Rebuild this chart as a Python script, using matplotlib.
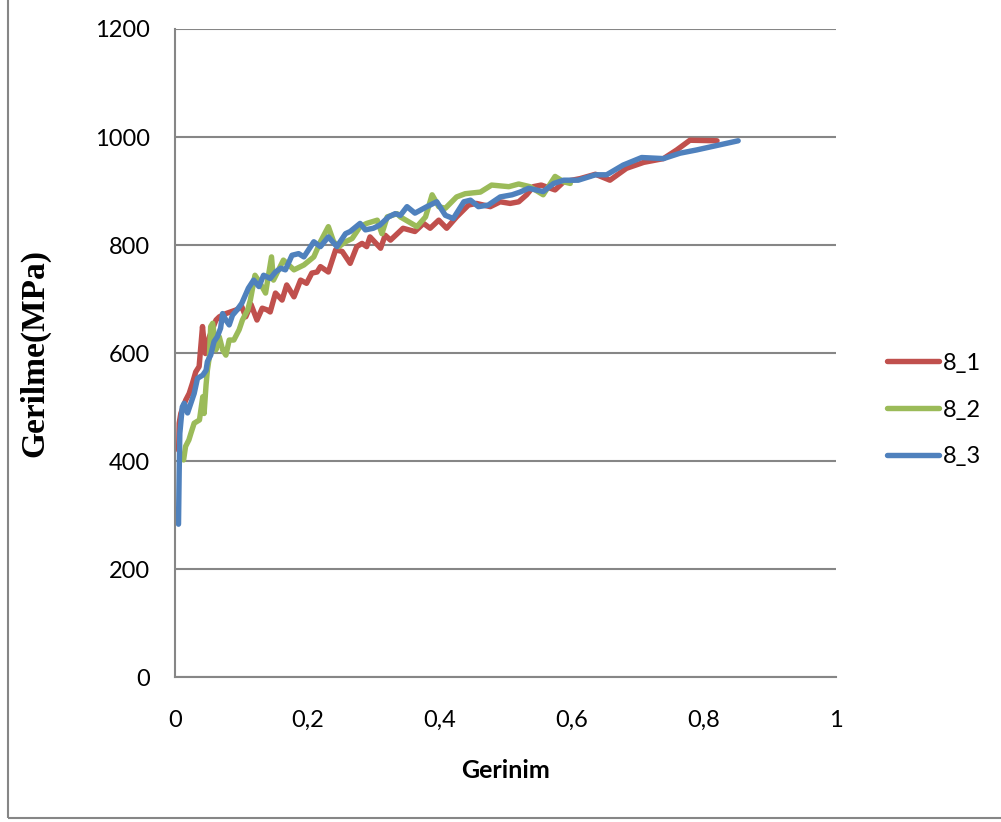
import matplotlib
matplotlib.use("Agg")
import matplotlib.pyplot as plt
from matplotlib.patches import Rectangle

# ---- data ----
strain_8_1 = [0.0055, 0.0063, 0.0088, 0.0163, 0.0214, 0.0264, 0.0314, 0.0365, 0.0416, 0.044, 0.046,
              0.052, 0.062, 0.067, 0.077, 0.093, 0.101, 0.107, 0.115, 0.124, 0.132, 0.139, 0.144,
              0.152, 0.162, 0.169, 0.18, 0.19, 0.199, 0.207, 0.215, 0.22, 0.232, 0.243, 0.253,
              0.265, 0.275, 0.283, 0.29, 0.295, 0.311, 0.318, 0.326, 0.345, 0.363, 0.376, 0.386,
              0.399, 0.411, 0.426, 0.444, 0.456, 0.477, 0.492, 0.507, 0.52, 0.532, 0.542, 0.554,
              0.575, 0.588, 0.613, 0.636, 0.658, 0.683, 0.709, 0.739, 0.759, 0.779, 0.82]
stress_8_1 = [420, 470, 488, 513, 525, 544, 565, 575, 649, 618, 599,
              630, 661, 667, 673, 680, 686, 667, 690, 661, 683, 680, 676,
              711, 698, 726, 704, 735, 729, 748, 750, 760, 750, 791, 788,
              766, 797, 803, 797, 815, 794, 818, 809, 831, 825, 840, 831,
              846, 831, 852, 874, 877, 871, 880, 877, 880, 893, 908, 911,
              902, 917, 923, 931, 920, 942, 953, 960, 976, 994, 993]

strain_8_2 = [0.013, 0.016, 0.021, 0.024, 0.029, 0.037, 0.042, 0.044, 0.047, 0.049, 0.052,
              0.054, 0.057, 0.062, 0.067, 0.072, 0.077, 0.082, 0.089, 0.097, 0.102, 0.11, 0.114,
              0.121, 0.127, 0.137, 0.146, 0.149, 0.164, 0.18, 0.195, 0.21, 0.22, 0.232, 0.24,
              0.248, 0.258, 0.268, 0.28, 0.29, 0.306, 0.313, 0.321, 0.336, 0.341, 0.366, 0.379,
              0.389, 0.399, 0.409, 0.426, 0.439, 0.462, 0.479, 0.505, 0.52, 0.537, 0.557, 0.575,
              0.588, 0.598]
stress_8_2 = [402, 427, 439, 451, 470, 476, 519, 488, 541, 568, 593,
              649, 655, 606, 630, 606, 596, 624, 624, 643, 661, 680, 698,
              744, 733, 711, 778, 735, 772, 754, 763, 778, 806, 834, 806,
              797, 806, 812, 834, 840, 846, 821, 852, 858, 852, 834, 852,
              893, 871, 868, 889, 895, 898, 911, 908, 913, 908, 893, 927,
              917, 914]

strain_8_3 = [0.0053, 0.0063, 0.0073, 0.011, 0.0139, 0.019, 0.024, 0.029, 0.034, 0.042, 0.047,
              0.049, 0.054, 0.059, 0.064, 0.069, 0.072, 0.077, 0.082, 0.087, 0.094, 0.101, 0.111,
              0.119, 0.127, 0.134, 0.144, 0.152, 0.16, 0.167, 0.177, 0.187, 0.195, 0.21, 0.22,
              0.232, 0.245, 0.258, 0.265, 0.28, 0.288, 0.3, 0.31, 0.323, 0.333, 0.341, 0.351,
              0.363, 0.381, 0.396, 0.409, 0.421, 0.437, 0.447, 0.459, 0.474, 0.492, 0.51, 0.522,
              0.535, 0.557, 0.573, 0.588, 0.61, 0.636, 0.653, 0.678, 0.706, 0.739, 0.764, 0.789,
              0.852]
stress_8_3 = [283, 378, 451, 500, 507, 489, 507, 525, 553, 559, 568,
              584, 596, 621, 630, 646, 673, 661, 652, 670, 680, 692, 720,
              735, 723, 744, 738, 750, 757, 754, 781, 784, 778, 806, 797,
              815, 797, 821, 825, 840, 828, 831, 837, 852, 858, 855, 871,
              859, 871, 880, 855, 849, 880, 883, 871, 874, 889, 893, 898,
              905, 899, 914, 920, 920, 930, 930, 948, 962, 960, 970, 976,
              993]

series_names = ["8_1", "8_2", "8_3"]
series_colors = ["#C0504D", "#9BBB59", "#4F81BD"]
x_ticks = [0, 0.2, 0.4, 0.6, 0.8, 1]
x_tick_labels = ["0", "0,2", "0,4", "0,6", "0,8", "1"]
y_ticks = [0, 200, 400, 600, 800, 1000, 1200]

W, H = 1001, 822
fig = plt.figure(figsize=(W / 100, H / 100), dpi=100)
ax = fig.add_axes([175 / W, (H - 677) / H, 661 / W, 648 / H])

datasets = [(strain_8_1, stress_8_1), (strain_8_2, stress_8_2), (strain_8_3, stress_8_3)]
for (xs, ys), name, col in zip(datasets, series_names, series_colors):
    ax.plot(xs, ys, color=col, lw=3.9, label=name, solid_joinstyle="round",
            solid_capstyle="round")

ax.set_xlim(0, 1)
ax.set_ylim(0, 1200)
ax.set_xticks(x_ticks)
ax.set_xticklabels(x_tick_labels)
ax.set_yticks(y_ticks)
ax.grid(axis="y", color="#868686", lw=1.5)
ax.set_axisbelow(True)
for s in ["top", "right"]:
    ax.spines[s].set_visible(False)
ax.spines["left"].set_color("#868686")
ax.spines["left"].set_linewidth(1.5)
ax.spines["bottom"].set_color("#868686")
ax.spines["bottom"].set_linewidth(1.5)
ax.tick_params(length=0, labelsize=17)
ax.tick_params(axis="y", pad=18)
ax.tick_params(axis="x", pad=24)
for lab in ax.get_xticklabels() + ax.get_yticklabels():
    lab.set_fontfamily("Lato")

ax.set_xlabel("Gerinim", fontfamily="Lato", fontweight="bold", fontsize=18, labelpad=20)
ax.set_ylabel("Gerilme(MPa)", fontfamily="Liberation Serif", fontweight="bold", fontsize=24,
              labelpad=32)

leg = ax.legend(loc="center left", bbox_to_anchor=(1.045, 0.412), frameon=False,
                prop={"family": "Lato", "size": 17}, handlelength=2.2, handletextpad=0.15,
                labelspacing=1.1)

fig.patches.append(Rectangle((8 / W, 4 / H), 1.2, 1.2, transform=fig.transFigure,
                             fill=False, edgecolor="#868686", lw=1.5))

fig.savefig("out.png", dpi=100)
